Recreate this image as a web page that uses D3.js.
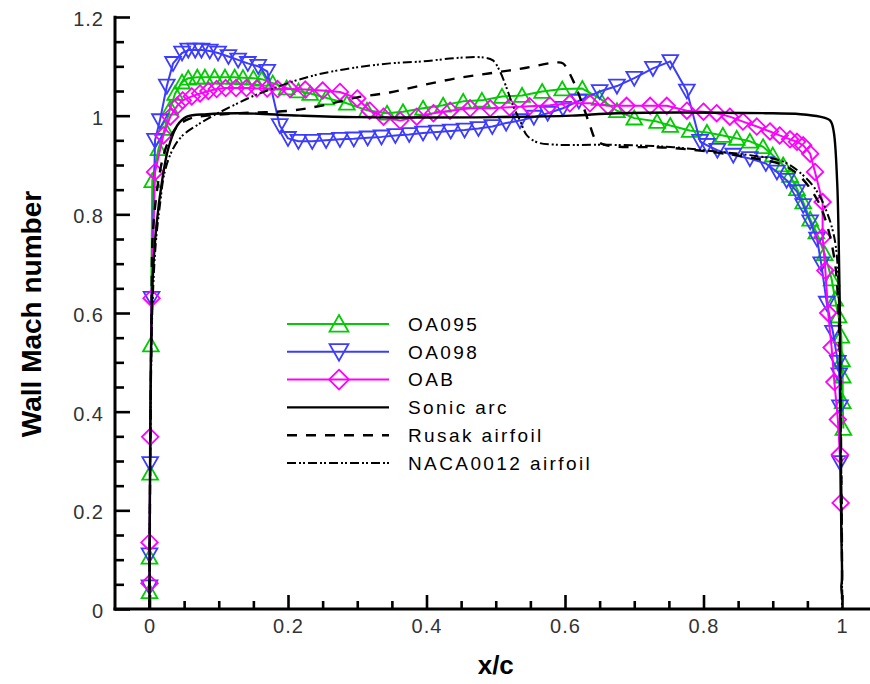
<!DOCTYPE html>
<html><head><meta charset="utf-8">
<script src="https://cdn.jsdelivr.net/npm/d3@7"></script>
<style>html,body{margin:0;padding:0;background:#fff;} svg{display:block;}</style>
</head><body>
<svg id="chart" width="870" height="684"></svg>
<script>
// ---------------- data ----------------
const xTickValues = [0, 0.2, 0.4, 0.6, 0.8, 1];
const yTickValues = [0, 0.2, 0.4, 0.6, 0.8, 1, 1.2];
const seriesNames = ["OA095", "OA098", "OAB", "Sonic arc", "Rusak airfoil", "NACA0012 airfoil"];
const xTitle = "x/c";
const yTitle = "Wall Mach number";

const oa095 = [
  [0.000,0.035],[0.000,0.105],[0.001,0.275],[0.002,0.535],[0.004,0.868],[0.013,0.933],[0.022,0.974],
  [0.030,1.015],[0.037,1.045],[0.047,1.068],[0.056,1.076],[0.069,1.078],[0.080,1.078],[0.094,1.078],
  [0.109,1.078],[0.123,1.078],[0.135,1.077],[0.150,1.076],[0.162,1.074],[0.178,1.066],[0.198,1.056],
  [0.215,1.050],[0.232,1.045],[0.255,1.036],[0.285,1.025],[0.314,1.011],[0.343,1.005],[0.366,1.008],
  [0.395,1.015],[0.424,1.021],[0.453,1.029],[0.480,1.031],[0.509,1.039],[0.538,1.041],[0.567,1.049],
  [0.596,1.054],[0.625,1.055],[0.650,1.035],[0.675,1.010],[0.700,0.995],[0.733,0.988],[0.752,0.980],
  [0.780,0.970],[0.805,0.966],[0.828,0.960],[0.848,0.954],[0.867,0.948],[0.886,0.937],[0.900,0.920],
  [0.915,0.900],[0.925,0.879],[0.935,0.852],[0.944,0.825],[0.954,0.790],[0.963,0.764],[0.975,0.720],
  [0.985,0.669],[0.990,0.628],[0.995,0.594],[0.999,0.553],[1.000,0.505],[1.001,0.472],[1.001,0.420],
  [1.002,0.366]
];
const oa098 = [
  [0.000,0.045],[0.000,0.110],[0.001,0.295],[0.003,0.630],[0.008,0.950],[0.015,0.990],[0.025,1.060],
  [0.034,1.106],[0.047,1.127],[0.056,1.133],[0.066,1.133],[0.075,1.133],[0.087,1.131],[0.099,1.127],
  [0.114,1.120],[0.128,1.113],[0.142,1.106],[0.157,1.100],[0.170,1.090],[0.188,0.980],[0.200,0.954],
  [0.215,0.948],[0.235,0.948],[0.255,0.950],[0.275,0.952],[0.295,0.953],[0.315,0.955],[0.335,0.957],
  [0.355,0.960],[0.375,0.962],[0.395,0.965],[0.415,0.967],[0.435,0.969],[0.455,0.971],[0.475,0.974],
  [0.495,0.978],[0.515,0.985],[0.535,0.990],[0.555,0.997],[0.575,1.005],[0.597,1.015],[0.620,1.030],
  [0.650,1.049],[0.675,1.060],[0.700,1.076],[0.727,1.096],[0.752,1.110],[0.776,1.050],[0.795,0.948],
  [0.805,0.940],[0.820,0.930],[0.843,0.920],[0.867,0.913],[0.890,0.903],[0.906,0.886],[0.920,0.869],
  [0.935,0.846],[0.944,0.818],[0.954,0.785],[0.964,0.750],[0.970,0.700],[0.978,0.620],[0.987,0.561],
  [0.994,0.500],[0.996,0.475],[0.997,0.410],[0.997,0.297]
];
const oab = [
  [0.000,0.052],[0.000,0.135],[0.001,0.349],[0.003,0.630],[0.008,0.886],[0.020,0.960],[0.030,0.998],
  [0.040,1.020],[0.048,1.031],[0.061,1.039],[0.073,1.045],[0.085,1.050],[0.097,1.054],[0.110,1.056],
  [0.125,1.056],[0.140,1.056],[0.155,1.055],[0.170,1.055],[0.185,1.054],[0.203,1.054],[0.225,1.053],
  [0.250,1.051],[0.275,1.048],[0.300,1.035],[0.318,1.010],[0.338,0.998],[0.362,0.990],[0.386,0.998],
  [0.410,1.005],[0.434,1.010],[0.463,1.015],[0.492,1.015],[0.520,1.017],[0.549,1.019],[0.578,1.021],
  [0.607,1.025],[0.636,1.025],[0.662,1.020],[0.689,1.020],[0.723,1.020],[0.747,1.020],[0.776,1.010],
  [0.800,1.008],[0.819,1.005],[0.838,0.998],[0.857,0.988],[0.877,0.978],[0.896,0.968],[0.910,0.960],
  [0.925,0.952],[0.935,0.947],[0.944,0.940],[0.954,0.923],[0.961,0.886],[0.972,0.825],[0.972,0.754],
  [0.976,0.686],[0.980,0.600],[0.985,0.530],[0.989,0.460],[0.994,0.384],[0.997,0.313],[0.998,0.215]
];
const sonicArc = [
  [0.000,0.000],[0.0005,0.200],[0.002,0.500],[0.005,0.680],[0.010,0.777],[0.018,0.866],[0.027,0.933],
  [0.040,0.980],[0.054,0.998],[0.083,1.003],[0.131,1.005],[0.217,1.000],[0.300,0.997],[0.500,0.997],
  [0.610,1.000],[0.675,1.005],[0.890,1.005],[0.940,1.003],[0.968,0.998],[0.983,0.990],[0.988,0.968],
  [0.993,0.866],[0.995,0.764],[0.997,0.600],[0.998,0.300],[0.999,0.155],[1.000,0.060],[0.999,0.045],
  [1.000,0.030]
];
const rusak = [
  [0.000,0.000],[0.001,0.300],[0.003,0.600],[0.005,0.765],[0.015,0.886],[0.025,0.940],[0.040,0.978],
  [0.058,0.994],[0.083,1.000],[0.130,1.005],[0.203,1.010],[0.251,1.021],[0.300,1.037],[0.347,1.047],
  [0.395,1.062],[0.444,1.076],[0.492,1.086],[0.540,1.096],[0.588,1.108],[0.597,1.106],[0.612,1.070],
  [0.626,1.020],[0.636,0.980],[0.645,0.950],[0.660,0.940],[0.750,0.935],[0.820,0.925],[0.867,0.915],
  [0.915,0.900],[0.940,0.876],[0.964,0.830],[0.978,0.780],[0.990,0.700],[0.995,0.600],[0.998,0.400],
  [1.000,0.100],[1.000,0.000]
];
const naca0012 = [
  [0.000,0.000],[0.001,0.300],[0.004,0.600],[0.009,0.740],[0.015,0.818],[0.022,0.886],[0.034,0.933],
  [0.048,0.960],[0.068,0.980],[0.092,1.000],[0.120,1.020],[0.150,1.040],[0.178,1.055],[0.213,1.072],
  [0.251,1.086],[0.300,1.098],[0.347,1.106],[0.395,1.110],[0.444,1.117],[0.482,1.118],[0.496,1.112],
  [0.506,1.090],[0.516,1.055],[0.525,1.020],[0.535,0.990],[0.545,0.960],[0.560,0.946],[0.588,0.941],
  [0.660,0.941],[0.747,0.937],[0.820,0.927],[0.867,0.920],[0.915,0.907],[0.944,0.879],[0.964,0.846],
  [0.978,0.805],[0.987,0.765],[0.992,0.724],[0.996,0.600],[0.998,0.400],[1.000,0.100],[1.000,0.000]
];

// ---------------- drawing ----------------
const svg = d3.select("#chart");
const x = d3.scaleLinear().domain([0, 1]).range([149.5, 842]);
const y = d3.scaleLinear().domain([0, 1.2]).range([609, 17]);

const fmt = d => String(+(+d).toFixed(1));
const tickFont = "'Liberation Sans', Arial, sans-serif";

const series = [
  {name: seriesNames[0], data: oa095, color: "#00cc00", marker: "up", width: 2, dash: null, curve: d3.curveLinear},
  {name: seriesNames[1], data: oa098, color: "#3c3cff", marker: "down", width: 2, dash: null, curve: d3.curveLinear},
  {name: seriesNames[2], data: oab, color: "#ff00ff", marker: "diamond", width: 2, dash: null, curve: d3.curveLinear},
  {name: seriesNames[3], data: sonicArc, color: "#000", marker: null, width: 2.4, dash: null, curve: d3.curveCatmullRom.alpha(0.5)},
  {name: seriesNames[4], data: rusak, color: "#000", marker: null, width: 2.4, dash: "10,9", curve: d3.curveCatmullRom.alpha(0.5)},
  {name: seriesNames[5], data: naca0012, color: "#000", marker: null, width: 2, dash: "9,3,2,2,2,3", curve: d3.curveCatmullRom.alpha(0.5)}
];

function markerPath(type, s) {
  const h = s, w = s * 1.05;
  if (type === "up") return `M0,${-h} L${w},${h*0.85} L${-w},${h*0.85} Z`;
  if (type === "down") return `M${-w},${-h*0.85} L${w},${-h*0.85} L0,${h} Z`;
  return `M0,${-s*1.1} L${s*1.1},0 L0,${s*1.1} L${-s*1.1},0 Z`;
}

// axes
const minorX = d3.range(1, 20).filter(i => i % 4 !== 0).map(i => i * 0.05);
const minorY = d3.range(1, 24).filter(i => i % 4 !== 0).map(i => i * 0.05);

const gy = svg.append("g").attr("transform", "translate(115,0)");
gy.call(d3.axisLeft(y).tickValues(minorY).tickSize(-9).tickFormat(""));
gy.call(g => g.select(".domain").remove());
const gyMajor = svg.append("g").attr("transform", "translate(115,0)");
gyMajor.call(d3.axisLeft(y).tickValues(yTickValues).tickSize(-15).tickPadding(11).tickFormat(fmt));
gyMajor.select(".domain").remove();

const gx = svg.append("g").attr("transform", "translate(0,609)");
gx.call(d3.axisBottom(x).tickValues(minorX).tickSize(-8).tickFormat(""));
gx.select(".domain").remove();
const gxMajor = svg.append("g").attr("transform", "translate(0,609)");
gxMajor.call(d3.axisBottom(x).tickValues(xTickValues).tickSize(-14).tickPadding(10).tickFormat(fmt));
gxMajor.select(".domain").remove();
svg.selectAll("g .tick line").attr("stroke", "#000").attr("stroke-width", 2.6);
svg.selectAll("g .tick text").attr("font-family", tickFont).attr("font-size", 20)
  .attr("fill", "#333").attr("letter-spacing", "1px");
gyMajor.selectAll(".tick text").attr("dy", "0.42em");

// axis lines
svg.append("line").attr("x1", 115).attr("x2", 115).attr("y1", 610.5).attr("y2", y(1.2) - 1.3)
  .attr("stroke", "#000").attr("stroke-width", 3);
svg.append("line").attr("x1", 113.5).attr("x2", 870).attr("y1", 609).attr("y2", 609)
  .attr("stroke", "#000").attr("stroke-width", 3);

// curves
const plot = svg.append("g");
series.forEach(s => {
  const line = d3.line().x(d => x(d[0])).y(d => y(d[1])).curve(s.curve);
  plot.append("path").attr("d", line(s.data)).attr("fill", "none")
    .attr("stroke", s.color).attr("stroke-width", s.width)
    .attr("stroke-linejoin", "round")
    .attr("stroke-dasharray", s.dash);
  if (s.marker) {
    plot.append("g").selectAll("path").data(s.data).join("path")
      .attr("transform", d => `translate(${x(d[0])},${y(d[1])})`)
      .attr("d", markerPath(s.marker, 7.5))
      .attr("fill", "none").attr("stroke", s.color).attr("stroke-width", 1.8);
  }
});

// legend
const legendRowY = d3.scaleLinear().domain([0, 5]).range([324, 463]);
const leg = svg.append("g");
series.forEach((s, i) => {
  const ly = legendRowY(i);
  leg.append("line").attr("x1", 287).attr("x2", 389).attr("y1", ly).attr("y2", ly)
    .attr("stroke", s.color).attr("stroke-width", s.width).attr("stroke-dasharray", s.dash);
  if (s.marker) {
    leg.append("path").attr("transform", `translate(339,${ly})`).attr("d", markerPath(s.marker, 9))
      .attr("fill", "none").attr("stroke", s.color).attr("stroke-width", 1.8);
  }
  leg.append("text").attr("x", 408).attr("y", ly).attr("dy", "0.36em")
    .attr("font-family", tickFont).attr("font-size", 19).attr("letter-spacing", "2.4px")
    .attr("fill", "#000").text(s.name);
});

// titles
svg.append("text").attr("x", x(0.5)).attr("y", 674).attr("text-anchor", "middle")
  .attr("font-family", "'Liberation Sans', Arial, sans-serif").attr("font-weight", "bold")
  .attr("font-size", 26).attr("fill", "#000").text(xTitle);
svg.append("text").attr("transform", "translate(41,314) rotate(-90)").attr("text-anchor", "middle")
  .attr("font-family", "'Liberation Sans', Arial, sans-serif").attr("font-weight", "bold")
  .attr("font-size", 28).attr("fill", "#000").text(yTitle);
</script>
</body></html>
